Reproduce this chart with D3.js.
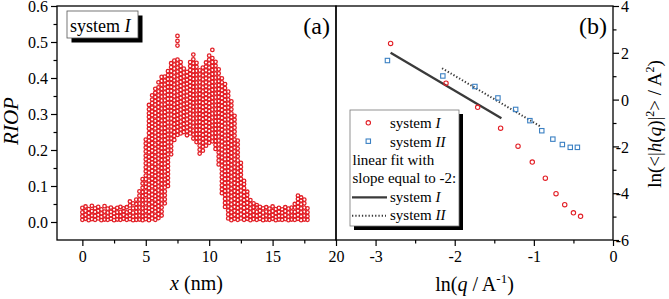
<!DOCTYPE html>
<html>
<head>
<meta charset="utf-8">
<script src="https://cdn.jsdelivr.net/npm/d3@7"></script>
<style>
  body { margin: 0; background: #fff; }
  svg text { font-family: "Liberation Serif", "Times New Roman", serif; fill: #000; }
</style>
</head>
<body>
<svg id="chart" width="669" height="299"></svg>
<script>
/* Panel (a): RIOP profile along x.  Each entry = [x (nm), RIOP values x1000 in that column] */
const riopCols = [
  [0,    [6,16,27,39]],
  [0.25, [9,20,31,43]],
  [0.5,  [5,14,25,36]],
  [0.75, [8,18,30,45]],
  [1,    [6,17,28,38]],
  [1.25, [10,20,31,42]],
  [1.5,  [5,14,24,35]],
  [1.75, [7,18,29,44]],
  [2,    [6,15,26,37]],
  [2.25, [9,19,28,40]],
  [2.5,  [5,14,24,34]],
  [2.75, [7,17,27,39]],
  [3,    [6,16,28,42]],
  [3.25, [9,20,30,38]],
  [3.5,  [6,16,27,41]],
  [3.75, [8,18,30,46,57]],
  [4,    [5,15,26,38,52]],
  [4.25, [6,17,28,39,50,62]],
  [4.5,  [7,18,29,40,51,62,73,85]],
  [4.75, [5,16,27,38,49,61,72,83,95,107,119]],
  [5,    [8,18,30,40,52,62,75,85,97,107,119,129,141,152,163,174,184,196,207,218,229]],
  [5.25, [5,16,28,38,49,61,71,82,94,104,115,127,137,148,160,170,181,193,203,214,226,236,247,259,269,280,292,302,313,325]],
  [5.5,  [10,21,33,43,54,66,76,87,99,109,120,132,142,153,165,175,186,198,208,219,231,241,252,264,274,285,297,307,318,330,340,352]],
  [5.75, [6,17,29,39,50,62,72,83,95,105,116,128,138,149,161,171,182,194,204,215,227,237,248,260,270,281,293,303,314,326,336,347,359,370]],
  [6,    [11,22,33,44,55,66,77,88,99,110,121,132,143,154,165,176,187,198,209,220,231,242,253,264,275,286,297,308,319,330,341,352,363,374,388]],
  [6.25, [18,29,40,51,62,73,84,95,106,117,128,139,150,161,172,183,194,205,216,227,238,249,260,271,282,293,304,315,326,337,348,359,370,381,392,403]],
  [6.5,  [52,63,74,85,96,107,118,129,140,151,162,173,184,195,206,217,228,239,250,261,272,283,294,305,316,327,338,349,360,371,382,393,404]],
  [6.75, [100,111,122,133,144,155,166,177,188,199,210,221,232,243,254,265,276,287,298,309,320,331,342,353,364,375,386,397,408,419]],
  [7,    [188,199,210,221,232,243,254,265,276,287,298,309,320,331,342,353,364,375,386,397,408,419,430,441]],
  [7.25, [228,239,250,261,272,283,294,305,316,327,338,349,360,371,382,393,404,415,426,437,448]],
  [7.5,  [242,253,264,275,286,297,308,319,330,341,352,363,374,385,396,407,418,429,440,451,490,503,517]],
  [7.75, [246,257,268,279,290,301,312,323,334,345,356,367,378,389,400,411,422,433,444]],
  [8,    [250,261,272,283,294,305,316,327,338,349,360,371,382,393,404,415,426]],
  [8.25, [241,252,263,274,285,296,307,318,329,340,351,362,373,384,395,406,417]],
  [8.5,  [246,257,268,279,290,301,312,323,334,345,356,367,378,389,400,411,422,433,444]],
  [8.75, [232,243,254,265,276,287,298,309,320,331,342,353,364,375,386,397,408,419,430,441,452,465]],
  [9,    [222,233,244,255,266,277,288,299,310,321,332,343,354,365,376,387,398,409,420,431,442]],
  [9.25, [190,201,212,223,234,245,256,267,278,289,300,311,322,333,344,355,366,377,388,399,410,421]],
  [9.5,  [198,209,220,231,242,253,264,275,286,297,308,319,330,341,352,363,374,385,396,407,418,429]],
  [9.75, [212,223,234,245,256,267,278,289,300,311,322,333,344,355,366,377,388,399,410,421,432,443]],
  [10,   [220,231,242,253,264,275,286,297,308,319,330,341,352,363,374,385,396,407,418,429,440,451,462]],
  [10.25,[224,235,246,257,268,279,290,301,312,323,334,345,356,367,378,389,400,411,422,433,444,455,478]],
  [10.5, [203,214,225,236,247,258,269,280,291,302,313,324,335,346,357,368,379,390,401,412,423,434,445]],
  [10.75,[160,171,182,193,204,215,226,237,248,259,270,281,292,303,314,325,336,347,358,369,380,391,402,413,424]],
  [11,   [80,91,102,113,124,135,146,157,168,179,190,201,212,223,234,245,256,267,278,289,300,311,322,333,344,355,366,377,388,399]],
  [11.25,[42,53,64,75,86,97,108,119,130,141,152,163,174,185,196,207,218,229,240,251,262,273,284,295,306,317,328,339,350,361,372,383]],
  [11.5, [10,21,32,43,54,65,76,87,98,109,120,131,142,153,164,175,186,197,208,219,230,241,252,263,274,285,296,307,318,329,340,351,362]],
  [11.75,[5,16,27,38,49,60,71,82,93,104,115,126,137,148,159,170,181,192,203,214,225,236,247,258,269,280,291,302,313,324,335]],
  [12,   [9,20,31,42,53,64,75,86,97,108,119,130,141,152,163,174,185,196,207,218,229,240,251,262,273,284,295]],
  [12.25,[6,17,28,39,50,61,72,83,94,105,116,127,138,149,160,171,182,193,204,215,226]],
  [12.5, [10,21,32,43,54,65,76,87,98,109,120,131,142,153,164]],
  [12.75,[6,17,28,39,50,61,72,83,94,105,114]],
  [13,   [9,20,31,42,53,64,75,84]],
  [13.25,[5,16,27,38,49,61]],
  [13.5, [8,19,30,41,52]],
  [13.75,[6,17,28,40,47]],
  [14,   [9,20,31,42]],
  [14.25,[5,15,26,38]],
  [14.5, [7,18,29,41]],
  [14.75,[6,16,27,37]],
  [15,   [9,19,30,43]],
  [15.25,[5,14,25,36]],
  [15.5, [7,17,28,39]],
  [15.75,[6,16,26,35]],
  [16,   [8,19,30,41]],
  [16.25,[5,15,26,37]],
  [16.5, [7,18,29,40]],
  [16.75,[6,17,28,40,50]],
  [17,   [9,20,31,42,53,64,73]],
  [17.25,[5,16,27,38,49,60,68]],
  [17.5, [7,18,29,40,52,62]],
  [17.75,[6,16,27,38]]
];

/* Panel (b): ln(q) vs ln(<|h(q)|^2>) */
const lnqI  = [-2.81, -2.11, -1.71, -1.42, -1.20, -1.02, -0.855, -0.72, -0.61, -0.50, -0.41];
const lnhI  = [2.40, 0.70, -0.33, -1.22, -1.99, -2.67, -3.36, -4.02, -4.49, -4.84, -4.99];
const lnqII = [-2.85, -2.15, -1.745, -1.454, -1.23, -1.05, -0.90, -0.76, -0.64, -0.54, -0.45];
const lnhII = [1.67, 1.01, 0.56, 0.07, -0.42, -0.90, -1.33, -1.69, -1.92, -2.04, -2.04];
// slope -2 fits, end points
const fitIx  = [-2.81, -1.41], fitIy  = [2.0, -0.8];
const fitIIx = [-2.16, -0.92], fitIIy = [1.34, -1.14];

/* tick values */
const aXMajor = [0, 5, 10, 15, 20], aXMinor = [2.5, 7.5, 12.5, 17.5];
const aYMajor = [0, 0.1, 0.2, 0.3, 0.4, 0.5, 0.6], aYMinor = [0.05, 0.15, 0.25, 0.35, 0.45, 0.55];
const bXMajor = [-3, -2, -1, 0], bXMinor = [-2.5, -1.5, -0.5];
const bYMajor = [-6, -4, -2, 0, 2, 4], bYMinor = [-5, -3, -1, 1, 3];

const RED = "#e21f26", BLUE = "#3b80c3", LINE = "#3a3a3a";
const TOP = 6, BOT = 240;

const svg = d3.select("#chart");

const xA = d3.scaleLinear().domain([-2, 20]).range([57, 336]);
const yA = d3.scaleLinear().domain([-0.05, 0.6]).range([BOT, TOP]);
const xB = d3.scaleLinear().domain([-3.5, 0]).range([336, 613]);
const yB = d3.scaleLinear().domain([-6, 4]).range([BOT, TOP]);

/* axis helper: minor ticks without labels, then major ticks with labels */
function drawAxis(make, scale, tr, major, minor, fmt) {
  const gm = svg.append("g").attr("transform", tr)
    .call(make(scale).tickValues(minor).tickSize(3.5).tickFormat(""));
  gm.select(".domain").remove();
  const g = svg.append("g").attr("transform", tr)
    .call(make(scale).tickValues(major).tickSize(6).tickPadding(3).tickFormat(fmt));
  g.select(".domain").remove();
  svg.selectAll("g.tick line").attr("stroke", "#000").attr("stroke-width", 1.2);
  g.selectAll("text").style("font-size", "16px");
  return g;
}

/* ---------- panel (a) ---------- */
drawAxis(d3.axisLeft, yA, "translate(57,0)", aYMajor, aYMinor, d3.format(".1f"))
  .selectAll("text").attr("dy", "0.35em");
drawAxis(d3.axisBottom, xA, `translate(0,${BOT})`, aXMajor, aXMinor, d => String(d))
  .selectAll("text").attr("dy", null).attr("y", 22);

const ptsA = riopCols.flatMap(([x, ys]) => ys.map(v => ({ x, y: v / 1000 })));
svg.append("g").selectAll("circle").data(ptsA).join("circle")
  .attr("cx", d => xA(d.x)).attr("cy", d => yA(d.y)).attr("r", 1.75)
  .attr("fill", "none").attr("stroke", RED).attr("stroke-width", 1.3);

svg.append("rect").attr("x", xA(-2)).attr("y", TOP)
  .attr("width", xA(20) - xA(-2)).attr("height", BOT - TOP)
  .attr("fill", "none").attr("stroke", "#000").attr("stroke-width", 1.3);

/* legend box "system I" with drop shadow */
svg.append("rect").attr("x", 71.5).attr("y", 15.5).attr("width", 71).attr("height", 27).attr("fill", "#000");
svg.append("rect").attr("x", 67).attr("y", 11).attr("width", 71).attr("height", 27)
  .attr("fill", "#fff").attr("stroke", "#555").attr("stroke-width", 0.8);
const la = svg.append("text").attr("x", 70).attr("y", 32).style("font-size", "18px");
la.append("tspan").text("system ");
la.append("tspan").style("font-style", "italic").text("I");

svg.append("text").attr("x", 330).attr("y", 33.5).attr("text-anchor", "end")
  .style("font-size", "24px").text("(a)");

svg.append("text").attr("transform", "translate(18,121) rotate(-90)")
  .attr("text-anchor", "middle").style("font-size", "21px").style("font-style", "italic")
  .text("RIOP");

const xt = svg.append("text").attr("x", (xA(-2) + xA(20)) / 2).attr("y", 290)
  .attr("text-anchor", "middle").style("font-size", "20px");
xt.append("tspan").style("font-style", "italic").text("x");
xt.append("tspan").text(" (nm)");

/* ---------- panel (b) ---------- */
drawAxis(d3.axisBottom, xB, `translate(0,${BOT})`, bXMajor, bXMinor, d => String(d))
  .selectAll("text").attr("dy", null).attr("y", 22);
drawAxis(d3.axisRight, yB, "translate(613,0)", bYMajor, bYMinor, d => String(d))
  .selectAll("text").attr("text-anchor", "end").attr("x", 16).attr("dy", "0.35em");

svg.append("rect").attr("x", xB(-3.5)).attr("y", TOP)
  .attr("width", xB(0) - xB(-3.5)).attr("height", BOT - TOP)
  .attr("fill", "none").attr("stroke", "#000").attr("stroke-width", 1.3);

const line = d3.line().x(d => xB(d[0])).y(d => yB(d[1]));
svg.append("path").datum(d3.zip(fitIx, fitIy)).attr("d", line)
  .attr("fill", "none").attr("stroke", LINE).attr("stroke-width", 2.3);
svg.append("path").datum(d3.zip(fitIIx, fitIIy)).attr("d", line)
  .attr("fill", "none").attr("stroke", LINE).attr("stroke-width", 2)
  .attr("stroke-dasharray", "1.3,2");

svg.append("g").selectAll("circle").data(d3.zip(lnqI, lnhI)).join("circle")
  .attr("cx", d => xB(d[0])).attr("cy", d => yB(d[1])).attr("r", 2.2)
  .attr("fill", "none").attr("stroke", RED).attr("stroke-width", 1.1);
svg.append("g").selectAll("rect").data(d3.zip(lnqII, lnhII)).join("rect")
  .attr("x", d => xB(d[0]) - 2.2).attr("y", d => yB(d[1]) - 2.2)
  .attr("width", 4.4).attr("height", 4.4)
  .attr("fill", "none").attr("stroke", BLUE).attr("stroke-width", 1.1);

svg.append("text").attr("x", 607).attr("y", 33.5).attr("text-anchor", "end")
  .style("font-size", "24px").text("(b)");

/* legend (b) */
svg.append("rect").attr("x", 354).attr("y", 114).attr("width", 109).attr("height", 116).attr("fill", "#000");
svg.append("rect").attr("x", 350).attr("y", 110).attr("width", 109).attr("height", 116)
  .attr("fill", "#fff").attr("stroke", "#777").attr("stroke-width", 0.8);
const rows = [128.3, 146.7, 165, 183.4, 201.8, 220.2];
svg.append("circle").attr("cx", 368.3).attr("cy", rows[0] - 5.5).attr("r", 2.2)
  .attr("fill", "none").attr("stroke", RED).attr("stroke-width", 1.1);
svg.append("rect").attr("x", 366.1).attr("y", rows[1] - 7.7).attr("width", 4.4).attr("height", 4.4)
  .attr("fill", "none").attr("stroke", BLUE).attr("stroke-width", 1.1);
svg.append("line").attr("x1", 352).attr("x2", 387).attr("y1", rows[4] - 4.5).attr("y2", rows[4] - 4.5)
  .attr("stroke", LINE).attr("stroke-width", 2.3);
svg.append("line").attr("x1", 352).attr("x2", 386).attr("y1", rows[5] - 4.5).attr("y2", rows[5] - 4.5)
  .attr("stroke", LINE).attr("stroke-width", 2).attr("stroke-dasharray", "1.3,2");

function sysLabel(y, numeral) {
  const t = svg.append("text").attr("x", 390).attr("y", y).style("font-size", "15px");
  t.append("tspan").text("system ");
  t.append("tspan").style("font-style", "italic").text(numeral);
}
sysLabel(rows[0], "I");
sysLabel(rows[1], "II");
svg.append("text").attr("x", 352.5).attr("y", rows[2]).style("font-size", "15px").text("linear fit with");
svg.append("text").attr("x", 352.5).attr("y", rows[3]).style("font-size", "15px").text("slope equal to -2:");
sysLabel(rows[4], "I");
sysLabel(rows[5], "II");

/* axis titles (b) */
const bt = svg.append("text").attr("x", (xB(-3.5) + xB(0)) / 2).attr("y", 291)
  .attr("text-anchor", "middle").style("font-size", "20px");
bt.append("tspan").text("ln(");
bt.append("tspan").style("font-style", "italic").text("q");
bt.append("tspan").text(" / A");
bt.append("tspan").attr("dy", -8).style("font-size", "13px").text("-1");
bt.append("tspan").attr("dy", 8).text(")");

const rt = svg.append("text").attr("transform", "translate(661,124) rotate(-90)")
  .attr("text-anchor", "middle").style("font-size", "19px");
rt.append("tspan").text("ln(<|");
rt.append("tspan").style("font-style", "italic").text("h");
rt.append("tspan").text("(");
rt.append("tspan").style("font-style", "italic").text("q");
rt.append("tspan").text(")|");
rt.append("tspan").attr("dy", -7).style("font-size", "12px").text("2");
rt.append("tspan").attr("dy", 7).text("> / A");
rt.append("tspan").attr("dy", -7).style("font-size", "12px").text("2");
rt.append("tspan").attr("dy", 7).text(")");
</script>
</body>
</html>
